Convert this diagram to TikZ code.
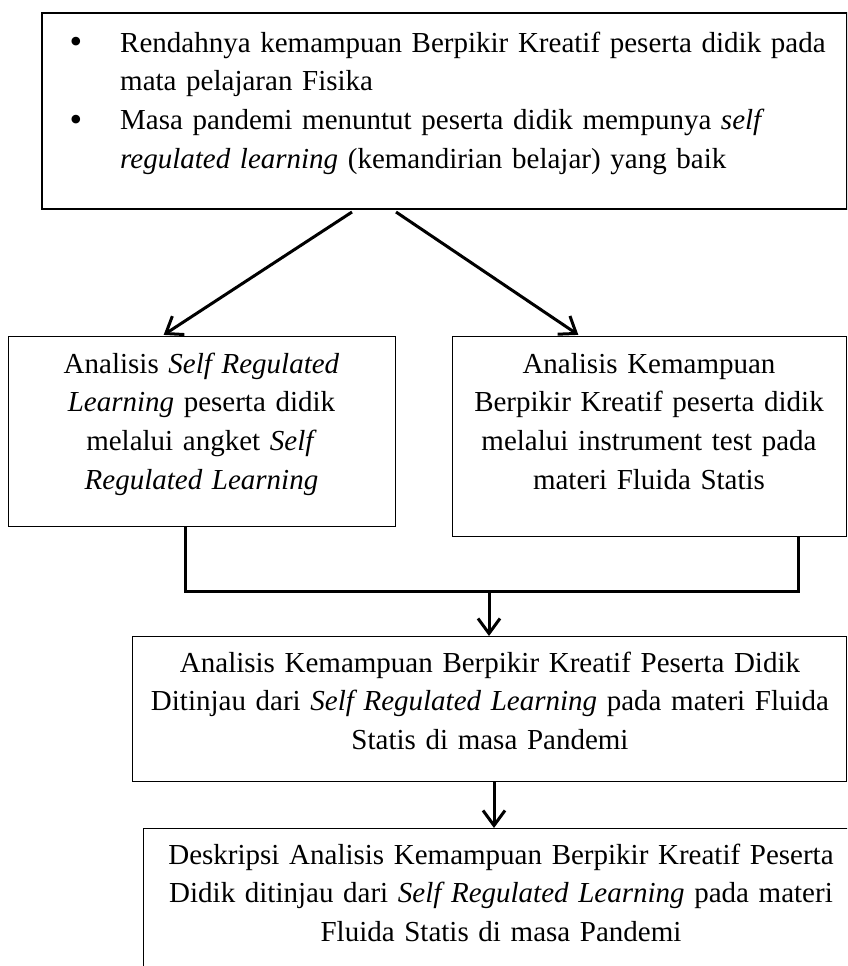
\documentclass[tikz,border=0pt]{standalone}
\usepackage{fontspec}
\setmainfont{Liberation Serif}
\usetikzlibrary{arrows.meta}
\newcommand\fst{\rule{0pt}{22pt}}
\begin{document}
\begin{tikzpicture}[x=1pt,y=-1pt,
  box/.style={draw, line width=1.2pt, inner sep=0pt, anchor=north west},
  txt/.style={inner sep=0pt, anchor=north, align=center, font=\fontsize{29}{38.7}\selectfont},
  bul/.style={inner sep=0pt, anchor=base, font=\fontsize{36}{40}\selectfont},
  arr/.style={line width=3pt, -{Straight Barb[length=15pt,width=22pt]}},
  conn/.style={line width=3pt}]
\useasboundingbox (0,0) rectangle (847,966);
\clip (0,0) rectangle (847,966);
% boxes
\node[box, line width=1.8pt, minimum width=805pt, minimum height=196pt] (T) at (41,12) {};
\node[box, minimum width=387pt, minimum height=190pt] (L) at (8,336) {};
\node[box, minimum width=394pt, minimum height=200pt] (R) at (452,336) {};
\node[box, minimum width=714pt, minimum height=145pt] (B3) at (132,636) {};
\node[box, minimum width=716pt, minimum height=180pt] (B4) at (143,828) {};
% texts
\node[bul] (b1) at (76,53) {\textbullet};
\node[bul] (b2) at (76,131) {\textbullet};
\node[txt, anchor=north west, align=left, text width=708pt] (Tt) at (120,30)
  {\fst\makebox[708pt][s]{Rendahnya kemampuan Berpikir Kreatif peserta didik pada}\\
   mata pelajaran Fisika\\
   \makebox[708pt][s]{Masa pandemi menuntut peserta didik mempunya \textit{self}}\\
   \textit{regulated learning} (kemandirian belajar) yang baik};
\node[txt, text width=380pt] (Lt) at (201.5,351)
  {\fst Analisis \textit{Self Regulated}\\ \textit{Learning} peserta didik\\ melalui angket \textit{Self}\\ \textit{Regulated Learning}};
\node[txt, text width=390pt] (Rt) at (649,351)
  {\fst Analisis Kemampuan\\ Berpikir Kreatif peserta didik\\ melalui instrument test pada\\ materi Fluida Statis};
\node[txt, text width=710pt] (B3t) at (490,650)
  {\fst Analisis Kemampuan Berpikir Kreatif Peserta Didik\\ Ditinjau dari \textit{Self Regulated Learning} pada materi Fluida\\ Statis di masa Pandemi};
\node[txt, text width=710pt] (B4t) at (501,842)
  {\fst Deskripsi Analisis Kemampuan Berpikir Kreatif Peserta\\ Didik ditinjau dari \textit{Self Regulated Learning} pada materi\\ Fluida Statis di masa Pandemi};
% connectors
\coordinate (s1) at (352,212);
\coordinate (e1) at (162,334);
\coordinate (s2) at (396,212);
\coordinate (e2) at (580,334);
\draw[arr, shorten >=2pt] (s1) -- (L.north -| e1);
\draw[arr, shorten >=2pt] (s2) -- (R.north -| e2);
\coordinate (cl) at (185,591);
\coordinate (cr) at (798,591);
\coordinate (cm) at (489,591);
\draw[conn] (L.south -| cl) -- (cl) -- (cr) -- (R.south -| cr);
\draw[arr] (cm) -- (B3.north -| cm);
\coordinate (cd) at (494,800);
\draw[arr] (B3.south -| cd) -- (B4.north -| cd);
\end{tikzpicture}
\end{document}
